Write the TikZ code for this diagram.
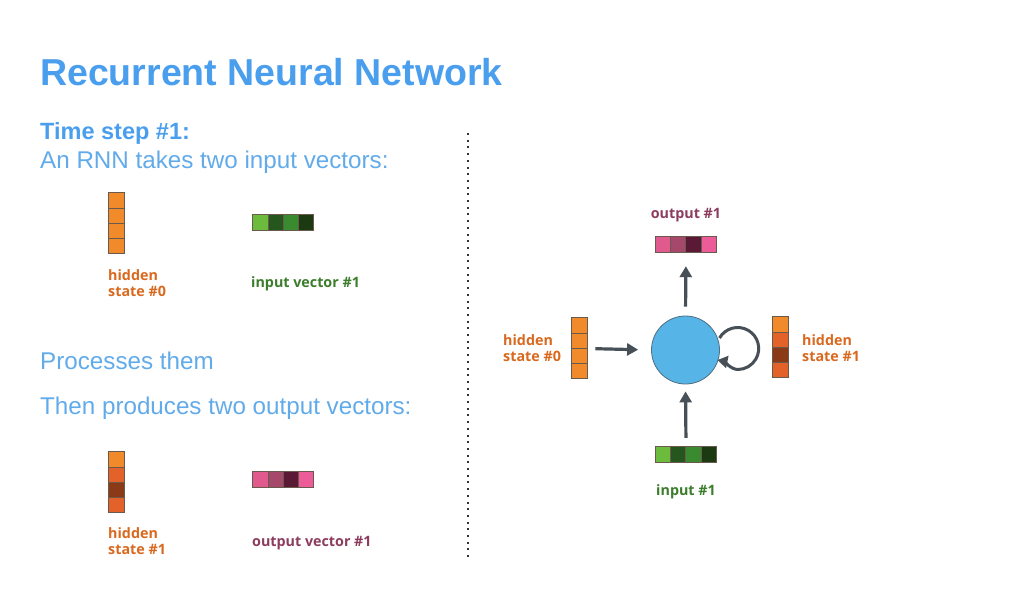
\documentclass[tikz,border=0pt]{standalone}
\usepackage{fontspec}
\setmainfont{Liberation Sans}
\newfontfamily\lblfont{Open Sans}
\usetikzlibrary{arrows.meta,calc}
\definecolor{titleblue}{HTML}{4A9EEE}
\definecolor{textblue}{HTML}{62ABEA}
\definecolor{orA}{HTML}{F08A2B}
\definecolor{orB}{HTML}{E2622A}
\definecolor{orC}{HTML}{8B3A17}
\definecolor{grA}{HTML}{6CBB3C}
\definecolor{grB}{HTML}{24561E}
\definecolor{grC}{HTML}{3A8A30}
\definecolor{grD}{HTML}{1B3A12}
\definecolor{pkA}{HTML}{E05A8E}
\definecolor{pkB}{HTML}{A5486C}
\definecolor{pkC}{HTML}{5A1A36}
\definecolor{pkD}{HTML}{EC5C98}
\definecolor{orlbl}{HTML}{D9691F}
\definecolor{grlbl}{HTML}{3C7D2C}
\definecolor{pklbl}{HTML}{8C3D5E}
\definecolor{arrgray}{HTML}{474F57}
\definecolor{cellb}{HTML}{6A5A4E}
\definecolor{rnnblue}{HTML}{56B4E6}
\definecolor{rnnedge}{HTML}{4E6E84}
\tikzset{
  vecv/.style={minimum width=15.5pt,minimum height=61pt,inner sep=0pt,draw=none},
  vech/.style={minimum width=61pt,minimum height=16pt,inner sep=0pt,draw=none},
  cell/.style={draw=cellb,line width=0.8pt},
  lbl/.style={font=\lblfont\bfseries\fontsize{14.3}{15.5}\selectfont,inner sep=0pt,align=left},
  body/.style={font=\fontsize{24.2}{28}\selectfont,text=textblue,inner sep=0pt,anchor=base west},
  arr/.style={draw=arrgray,line width=3.2pt,-{Triangle[width=12pt,length=11pt]}},
}
\newcommand\vvec[6]{%
  \node[vecv] (#1) at (#2) {};
  \foreach \c [count=\i from 0] in {#3,#4,#5,#6}
    {\filldraw[cell,fill=\c] ($(#1.north west)+(0,\i*15.25)$) rectangle ++(15.5,15.25);}
}
\newcommand\hvec[6]{%
  \node[vech] (#1) at (#2) {};
  \foreach \c [count=\i from 0] in {#3,#4,#5,#6}
    {\filldraw[cell,fill=\c] ($(#1.north west)+(\i*15.25,0)$) rectangle ++(15.25,16);}
}
\begin{document}
\begin{tikzpicture}[x=1pt,y=-1pt]
\useasboundingbox (0,0) rectangle (1016,614);
\fill[white] (0,0) rectangle (1016,614);
% titles
\node[anchor=base west,inner sep=0pt,text=titleblue,font=\bfseries\fontsize{37.5}{40}\selectfont] (title) at (40,85) {Recurrent Neural Network};
\node[anchor=base west,inner sep=0pt,text=titleblue,font=\bfseries\fontsize{23.5}{26}\selectfont] (step) at (40,139) {Time step \#1:};
\node[body] (takes) at (40,168) {An RNN takes two input vectors:};
\node[body] (proc) at (40,369) {Processes them};
\node[body] (prod) at (40,414) {Then produces two output vectors:};
% divider
\draw[line width=2pt,draw=black!80,dash pattern=on 2pt off 4.7pt] (468,133) coordinate (d1) -- (468,560) coordinate (d2);
% left vectors
\vvec{hzero}{116.5,223.5}{orA}{orA}{orA}{orA}
\node[lbl,anchor=base west,text=orlbl] (hzerol) at (108,296) {hidden\\state \#0};
\hvec{invec}{283.5,223}{grA}{grB}{grC}{grD}
\node[lbl,anchor=base west,text=grlbl] (invecl) at (251,287) {input vector \#1};
\vvec{hone}{116.5,482.5}{orA}{orB}{orC}{orB}
\node[lbl,anchor=base west,text=orlbl] (honel) at (108,554) {hidden\\state \#1};
\hvec{outvec}{283.5,480}{pkA}{pkB}{pkC}{pkD}
\node[lbl,anchor=base west,text=pklbl] (outvecl) at (252,546) {output vector \#1};
% right diagram
\node[circle,fill=rnnblue,draw=rnnedge,line width=0.8pt,minimum size=68pt,inner sep=0pt] (rnn) at (685.5,350) {};
\hvec{rout}{686,244.5}{pkA}{pkB}{pkC}{pkD}
\node[lbl,anchor=base,text=pklbl] (routl) at (686,218) {output \#1};
\hvec{rin}{686,455}{grA}{grB}{grC}{grD}
\node[lbl,anchor=base,text=grlbl] (rinl) at (686,495) {input \#1};
\vvec{rhzero}{579.5,348.5}{orA}{orA}{orA}{orA}
\node[lbl,anchor=base west,text=orlbl] (rhzerol) at (503,361) {hidden\\state \#0};
\vvec{rhone}{780.5,347.5}{orA}{orB}{orC}{orB}
\node[lbl,anchor=base west,text=orlbl] (rhonel) at (802,361) {hidden\\state \#1};
% arrows
\draw[arr,shorten <=8pt,shorten >=13pt] (rhzero.east) -- (rnn.west);
\draw[arr,shorten <=9pt,shorten >=7pt] (rin.north) -- (rnn.south);
\draw[arr,shorten <=9pt,shorten >=13.5pt] (rnn.north) -- (rout.south);
\draw[arr,line width=3pt,-{Triangle[width=12pt,length=10pt]}] ($(rnn.center)+(34,-12)$) arc[start angle=210,end angle=450,radius=21] .. controls +(-6,0) and +(5,1) .. ($(rnn.center)+(32,10)$);
\end{tikzpicture}
\end{document}
